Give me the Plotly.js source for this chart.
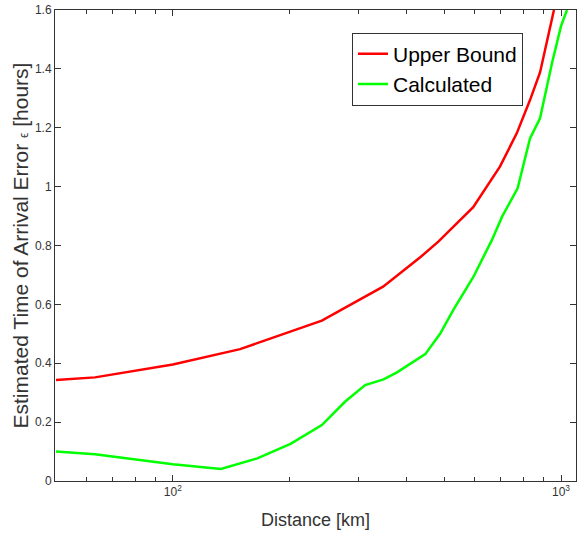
<!DOCTYPE html>
<html>
<head>
<meta charset="utf-8">
<script src="https://cdn.plot.ly/plotly-3.0.1.min.js"></script>
<style>html,body{margin:0;padding:0;background:#fff;}#chart{width:585px;height:533px;}</style>
</head>
<body>
<div id="chart"></div>
<script>
const upperX = [50, 63, 100, 132, 149, 242, 348, 433, 483, 594, 696, 769, 832, 883, 931, 959];
const upperY = [0.343, 0.352, 0.396, 0.431, 0.448, 0.545, 0.66, 0.759, 0.813, 0.93, 1.068, 1.181, 1.294, 1.388, 1.528, 1.6];
const calcX = [50, 63, 100, 133, 165, 201, 242, 278, 313, 349, 378, 447, 488, 528, 595, 664, 705, 773, 832, 883, 948, 1000, 1036];
const calcY = [0.10, 0.091, 0.057, 0.041, 0.077, 0.126, 0.19, 0.27, 0.326, 0.345, 0.369, 0.431, 0.50, 0.581, 0.694, 0.819, 0.898, 0.994, 1.164, 1.232, 1.42, 1.545, 1.6];
const seriesNames = ['Upper Bound', 'Calculated'];
const xMajor = [100, 1000];
const xMajorText = ['10<sup>2</sup>', '10<sup>3</sup>'];
const xMinor = [60, 70, 80, 90, 200, 300, 400, 500, 600, 700, 800, 900];
const yTicks = [0, 0.2, 0.4, 0.6, 0.8, 1, 1.2, 1.4, 1.6];
const yTickText = ['0', '0.2', '0.4', '0.6', '0.8', '1', '1.2', '1.4', '1.6'];

const axisColor = '#333333';
const traces = [
  {x: upperX, y: upperY, name: seriesNames[0], mode: 'lines', line: {color: '#ff0000', width: 2.5}},
  {x: calcX, y: calcY, name: seriesNames[1], mode: 'lines', line: {color: '#00ff00', width: 2.5}}
];
const layout = {
  width: 585, height: 533,
  margin: {l: 55, r: 9, t: 10, b: 52},
  paper_bgcolor: '#fff', plot_bgcolor: '#fff',
  font: {family: 'Liberation Sans, Arial, sans-serif', color: axisColor},
  showlegend: true,
  legend: {
    x: 0.57, y: 0.952, xanchor: 'left', yanchor: 'top',
    bgcolor: '#fff', bordercolor: '#333', borderwidth: 1,
    font: {size: 21, color: '#000'},
    tracegroupgap: 0
  },
  xaxis: {
    type: 'log',
    range: [Math.log10(49.7), Math.log10(1093)],
    tickmode: 'array', tickvals: xMajor, ticktext: xMajorText,
    ticks: 'inside', ticklen: 6, tickwidth: 1, tickcolor: axisColor,
    minor: {tickmode: 'array', tickvals: xMinor, ticks: 'inside', ticklen: 4, tickcolor: axisColor, showgrid: false},
    showline: true, linecolor: axisColor, linewidth: 1, mirror: 'ticks',
    showgrid: false, zeroline: false,
    tickfont: {size: 12, color: axisColor},
    title: {text: 'Distance [km]', font: {size: 18, color: axisColor}, standoff: 14}
  },
  yaxis: {
    range: [0, 1.6],
    tickmode: 'array', tickvals: yTicks, ticktext: yTickText,
    ticks: 'inside', ticklen: 6, tickwidth: 1, tickcolor: axisColor,
    showline: true, linecolor: axisColor, linewidth: 1, mirror: 'ticks',
    showgrid: false, zeroline: false,
    tickfont: {size: 12, color: axisColor},
    title: {text: 'Estimated Time of Arrival Error <span style="font-size:12px">ϵ</span> [hours]', font: {size: 21, color: axisColor}, standoff: 0}
  }
};
Plotly.newPlot('chart', traces, layout, {displayModeBar: false, staticPlot: true});
</script>
</body>
</html>
